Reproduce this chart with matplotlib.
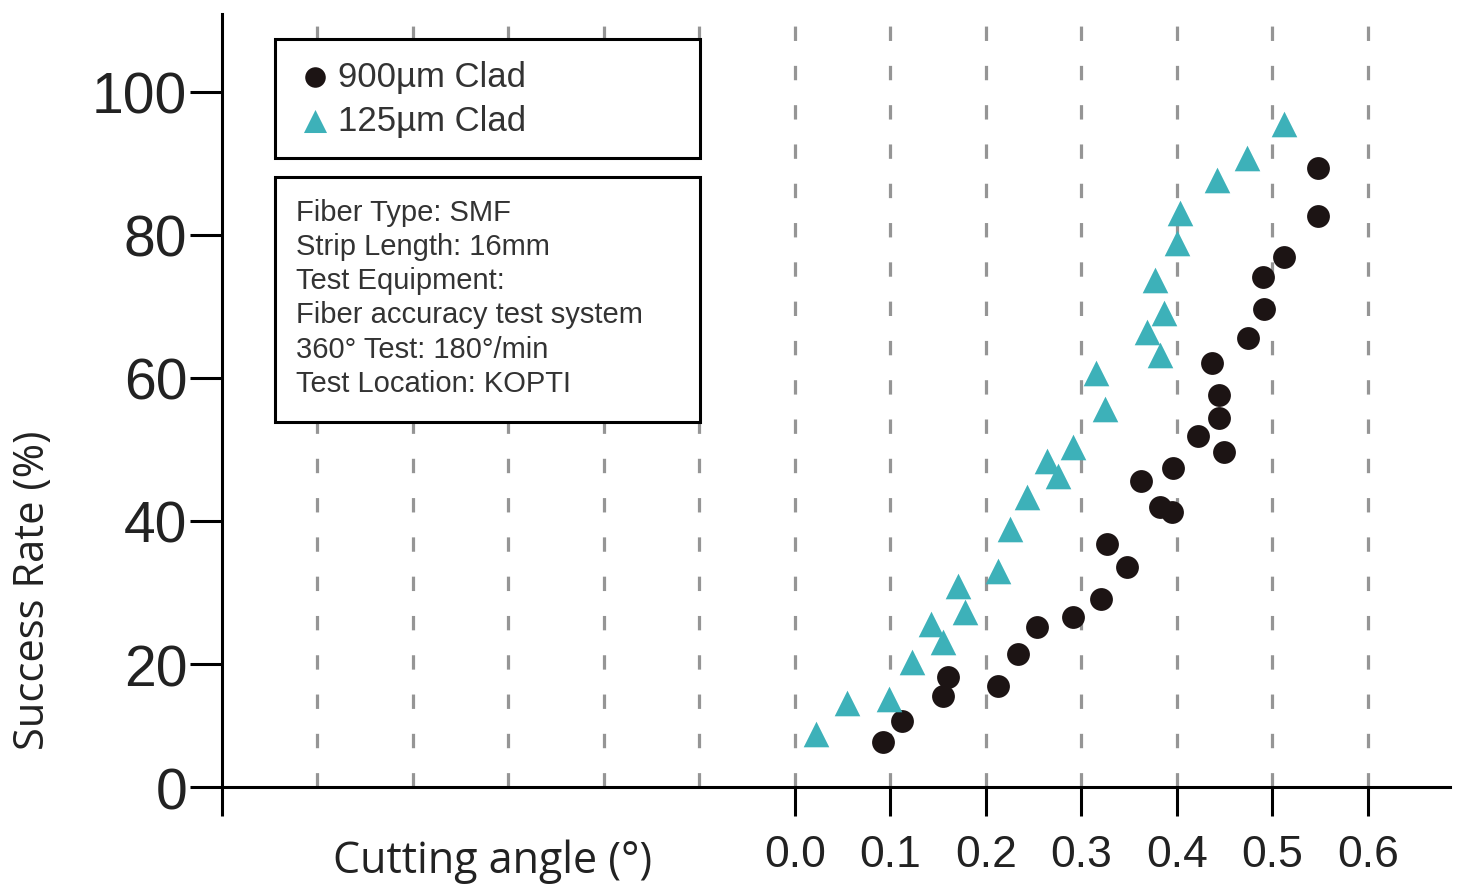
import numpy as np
import matplotlib
matplotlib.use("Agg")
import matplotlib.pyplot as plt
from matplotlib.patches import Rectangle

# 900um clad (circles)
x900 = [0.092, 0.112, 0.155, 0.160, 0.213, 0.234, 0.254, 0.291, 0.321, 0.348,
        0.327, 0.362, 0.382, 0.395, 0.396, 0.422, 0.449, 0.444, 0.444, 0.437,
        0.475, 0.491, 0.490, 0.512, 0.548, 0.548]
y900 = [9.1, 12.0, 15.5, 18.2, 16.9, 21.4, 25.2, 26.6, 29.1, 33.6,
        36.8, 45.6, 42.0, 41.3, 47.4, 51.9, 49.7, 54.4, 57.6, 62.1,
        65.6, 69.7, 74.1, 76.9, 82.7, 89.4]

# 125um clad (triangles)
x125 = [0.022, 0.055, 0.099, 0.123, 0.143, 0.155, 0.171, 0.178, 0.213, 0.225,
        0.243, 0.264, 0.275, 0.291, 0.315, 0.325, 0.369, 0.377, 0.382, 0.387,
        0.400, 0.403, 0.442, 0.473, 0.512]
y125 = [10.2, 14.5, 15.1, 20.3, 25.6, 23.1, 30.9, 27.3, 33.0, 38.9,
        43.4, 48.4, 46.3, 50.3, 60.7, 55.7, 66.4, 73.7, 63.2, 69.1,
        78.9, 83.1, 87.7, 90.8, 95.5]

grid_x = [-0.5, -0.4, -0.3, -0.2, -0.1, 0.0, 0.1, 0.2, 0.3, 0.4, 0.5, 0.6]
xticks = [-0.6, 0.0, 0.1, 0.2, 0.3, 0.4, 0.5, 0.6]
xticklabels = ['', '0.0', '0.1', '0.2', '0.3', '0.4', '0.5', '0.6']
y_bottom = 2.8
yticks = [y_bottom, 20, 40, 60, 80, 100]
yticklabels = ['0', '20', '40', '60', '80', '100']

info_lines = ["Fiber Type: SMF", "Strip Length: 16mm", "Test Equipment:",
              "Fiber accuracy test system", "360° Test: 180°/min",
              "Test Location: KOPTI"]

c_black = '#1c1414'
c_teal = '#3db1b9'

fig = plt.figure(figsize=(14.71, 8.87), dpi=100)
ax = fig.add_axes([0.1509, 0.1116, 0.8348, 0.8715])

for gx in grid_x:
    ax.axvline(gx, color='#959595', lw=2.3, dashes=(4.5, 7.8), zorder=1)

ax.scatter(x900, y900, s=270, marker='o', color=c_black, zorder=3,
           label='900µm Clad', linewidths=0)
ax.scatter(x125, y125, s=340, marker='^', color=c_teal, zorder=3,
           label='125µm Clad', linewidths=0)

ax.set_xlim(-0.6, 0.686)
ax.set_ylim(y_bottom, 110.9)

for s in ['top', 'right']:
    ax.spines[s].set_visible(False)
for s in ['left', 'bottom']:
    ax.spines[s].set_linewidth(2.2)
    ax.spines[s].set_color('black')

ax.set_xticks(xticks)
ax.set_xticklabels(xticklabels, fontsize=32, family='Liberation Sans', color='#222222')
ax.set_yticks(yticks)
ax.set_yticklabels(yticklabels, fontsize=41, family='Liberation Sans', color='#222222')
ax.tick_params(axis='x', direction='out', length=21, width=2.2, pad=13)
ax.tick_params(axis='y', direction='out', length=23, width=2.2, pad=2)

ax.text(0.22, -0.095, 'Cutting angle (°)', transform=ax.transAxes,
        ha='center', va='center', fontsize=31, family='Open Sans', color='#222222')
ax.text(-0.154, 0.256, 'Success Rate (%)', transform=ax.transAxes, rotation=90,
        ha='center', va='center', fontsize=30, family='Open Sans', color='#222222')

leg = ax.legend(loc='upper left', bbox_to_anchor=(0.043, 0.815, 0.346, 0.153),
                mode='expand', fancybox=False, framealpha=1, edgecolor='black',
                prop={'family': 'Liberation Sans', 'size': 25},
                borderpad=0.62, labelspacing=0.3, handlelength=1.1,
                handletextpad=0.1, borderaxespad=0, markerscale=0.9)
leg.get_frame().set_linewidth(2.2)
for t in leg.get_texts():
    t.set_color('#333333')
leg.set_zorder(5)

box = Rectangle((0.043, 0.472), 0.346, 0.317, transform=ax.transAxes,
                facecolor='white', edgecolor='black', lw=2.2, zorder=5)
ax.add_patch(box)
for i, line in enumerate(info_lines):
    ax.text(0.060, 0.744 - i * 0.0442, line, transform=ax.transAxes,
            ha='left', va='center', fontsize=21, family='Liberation Sans',
            color='#333333', zorder=6)

fig.savefig('out.png', dpi=100)
